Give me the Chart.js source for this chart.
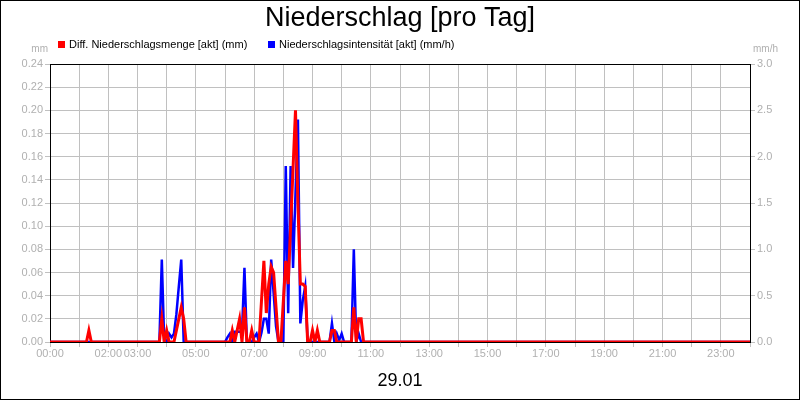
<!DOCTYPE html>
<html>
<head>
<meta charset="utf-8">
<script src="https://cdn.jsdelivr.net/npm/chart.js@4"></script>
<style>
  html, body { margin: 0; padding: 0; background: #fff; }
  #wrap { width: 800px; height: 400px; }
</style>
</head>
<body>
<div id="wrap"><canvas id="c" width="800" height="400"></canvas></div>
<script>
// ---- data ----
const times = ["00:00","01:15","01:20","01:25","03:45","03:50","03:55","04:00","04:05","04:10",
  "04:15","04:20","04:25","04:30","04:35","04:40","06:00","06:05","06:10","06:15",
  "06:20","06:25","06:30","06:35","06:40","06:45","06:50","06:55","07:00","07:05",
  "07:10","07:15","07:20","07:25","07:30","07:35","07:40","07:45","07:50","07:55",
  "08:00","08:05","08:10","08:15","08:20","08:25","08:30","08:35","08:40","08:45",
  "08:50","08:55","09:00","09:05","09:10","09:15","09:35","09:40","09:45","09:50",
  "09:55","10:00","10:05","10:20","10:25","10:30","10:35","10:40","10:45","24:00"];
const mengeValues = [0,0,0.01,0,0,0.02,0,0.01,0,0,
  0,0.01,0.02,0.03,0.02,0,0,0,0,0.01,
  0,0.01,0.02,0,0.03,0,0,0.01,0,0,
  0,0.035,0.07,0.025,0.05,0.065,0.06,0.03,0,0,
  0.035,0.07,0.05,0.10,0.15,0.20,0.12,0.05,0.05,0.048,
  0,0,0.01,0,0.01,0,0,0.01,0.01,0,
  0,0,0,0,0.03,0,0.02,0.02,0,0];
const intensitaetValues = [0,0,0,0,0,0.89,0,0,0.09,0.05,
  0.09,0.30,0.60,0.89,0,0,0,0.05,0.09,0,
  0.11,0.11,0.11,0.11,0.80,0,0,0,0.05,0.09,
  0,0.10,0.25,0.25,0.09,0.89,0.53,0.17,0,0,
  0,1.90,0.31,1.90,0.80,1.60,2.40,0.20,0.45,0.60,
  0,0,0,0,0,0,0,0.20,0,0.09,
  0.02,0.09,0,0,1.00,0,0.09,0,0,0];
const xTickLabels = ["00:00","02:00","03:00","05:00","07:00","09:00","11:00","13:00","15:00","17:00","19:00","21:00","23:00"];
const seriesLabels = ["Diff. Niederschlagsmenge [akt] (mm)", "Niederschlagsintensität [akt] (mm/h)"];
const titleText = "Niederschlag [pro Tag]";
const dateText = "29.01";
const leftUnit = "mm", rightUnit = "mm/h";

// ---- helpers ----
const toMin = t => { const [h, m] = t.split(":").map(Number); return h * 60 + m; };
const pts = vals => times.map((t, i) => ({ x: toMin(t), y: vals[i] }));
const FONT = "'Liberation Sans', Arial, sans-serif";
const GRID = "#c0c0c0";
const TICK = "#b0b0b0";

const decor = {
  id: "decor",
  beforeDraw(chart) {
    const ctx = chart.ctx;
    ctx.save();
    ctx.fillStyle = "#fff";
    ctx.fillRect(0, 0, chart.width, chart.height);
    ctx.restore();
  },
  beforeDatasetsDraw(chart) {
    const { ctx, chartArea: a } = chart;
    ctx.save();
    ctx.strokeStyle = "#000";
    ctx.lineWidth = 1;
    ctx.beginPath();
    ctx.moveTo(a.left, Math.round(a.top) + 0.5);
    ctx.lineTo(a.right, Math.round(a.top) + 0.5);
    ctx.stroke();
    ctx.restore();
  },
  afterDraw(chart) {
    const { ctx } = chart;
    ctx.save();
    // legend
    const items = [{ x: 58 }, { x: 268 }];
    ctx.font = "11px " + FONT;
    ctx.textBaseline = "middle";
    ctx.textAlign = "left";
    chart.data.datasets.forEach((ds, i) => {
      const bx = items[i].x, by = 41;
      ctx.fillStyle = ds.borderColor;
      ctx.fillRect(bx, by, 7, 7);
      ctx.fillStyle = "#000";
      ctx.fillText(ds.label, bx + 11, by + 4);
    });
    // units
    ctx.font = "10px " + FONT;
    ctx.fillStyle = TICK;
    ctx.textAlign = "right";
    ctx.fillText(leftUnit, 48, 49);
    ctx.textAlign = "left";
    ctx.fillText(rightUnit, 753, 49);
    // outer frame
    ctx.strokeStyle = "#000";
    ctx.lineWidth = 1;
    ctx.strokeRect(0.5, 0.5, chart.width - 1, chart.height - 1);
    ctx.restore();
  }
};

new Chart(document.getElementById("c"), {
  type: "line",
  data: {
    datasets: [
      { label: seriesLabels[0], data: pts(mengeValues), yAxisID: "y",
        borderColor: "#ff0000", backgroundColor: "#ff0000", borderWidth: 3,
        pointRadius: 0, tension: 0 },
      { label: seriesLabels[1], data: pts(intensitaetValues), yAxisID: "y1",
        borderColor: "#0000ff", backgroundColor: "#0000ff", borderWidth: 2.5,
        pointRadius: 0, tension: 0 }
    ]
  },
  options: {
    responsive: false,
    animation: false,
    layout: { padding: 0 },
    plugins: {
      legend: { display: false },
      tooltip: { enabled: false },
      title: {
        display: true, text: titleText, color: "#000",
        font: { family: FONT, size: 27, weight: "normal" },
        padding: { top: 2, bottom: 29.6 }
      }
    },
    scales: {
      x: {
        type: "linear", min: 0, max: 1440,
        afterFit: s => { s.height = 58; },
        border: { color: "#000", width: 1 },
        grid: { color: GRID, tickColor: GRID, tickLength: 5, lineWidth: 1 },
        ticks: {
          stepSize: 60, autoSkip: false, maxRotation: 0, minRotation: 0,
          color: TICK, font: { family: FONT, size: 11 }, padding: 0,
          callback: v => {
            const h = Math.round(v / 60);
            const lbl = String(h).padStart(2, "0") + ":00";
            return xTickLabels.includes(lbl) ? lbl : "";
          }
        },
        title: {
          display: true, text: dateText, color: "#000",
          font: { family: FONT, size: 18 }, padding: { top: 0, bottom: 8 }
        }
      },
      y: {
        position: "left", min: 0, max: 0.24,
        afterFit: s => { s.width = 50; },
        border: { color: "#000", width: 1 },
        grid: { color: GRID, tickColor: GRID, tickLength: 5 },
        ticks: { stepSize: 0.02, color: TICK, font: { family: FONT, size: 11 }, padding: 2,
          callback: v => v.toFixed(2) }
      },
      y1: {
        position: "right", min: 0, max: 3,
        afterFit: s => { s.width = 50; },
        border: { color: "#000", width: 1 },
        grid: { drawOnChartArea: false, color: GRID, tickColor: GRID, tickLength: 5 },
        ticks: { stepSize: 0.5, color: TICK, font: { family: FONT, size: 11 }, padding: 2,
          callback: v => v.toFixed(1) }
      }
    }
  },
  plugins: [decor]
});
</script>
</body>
</html>
